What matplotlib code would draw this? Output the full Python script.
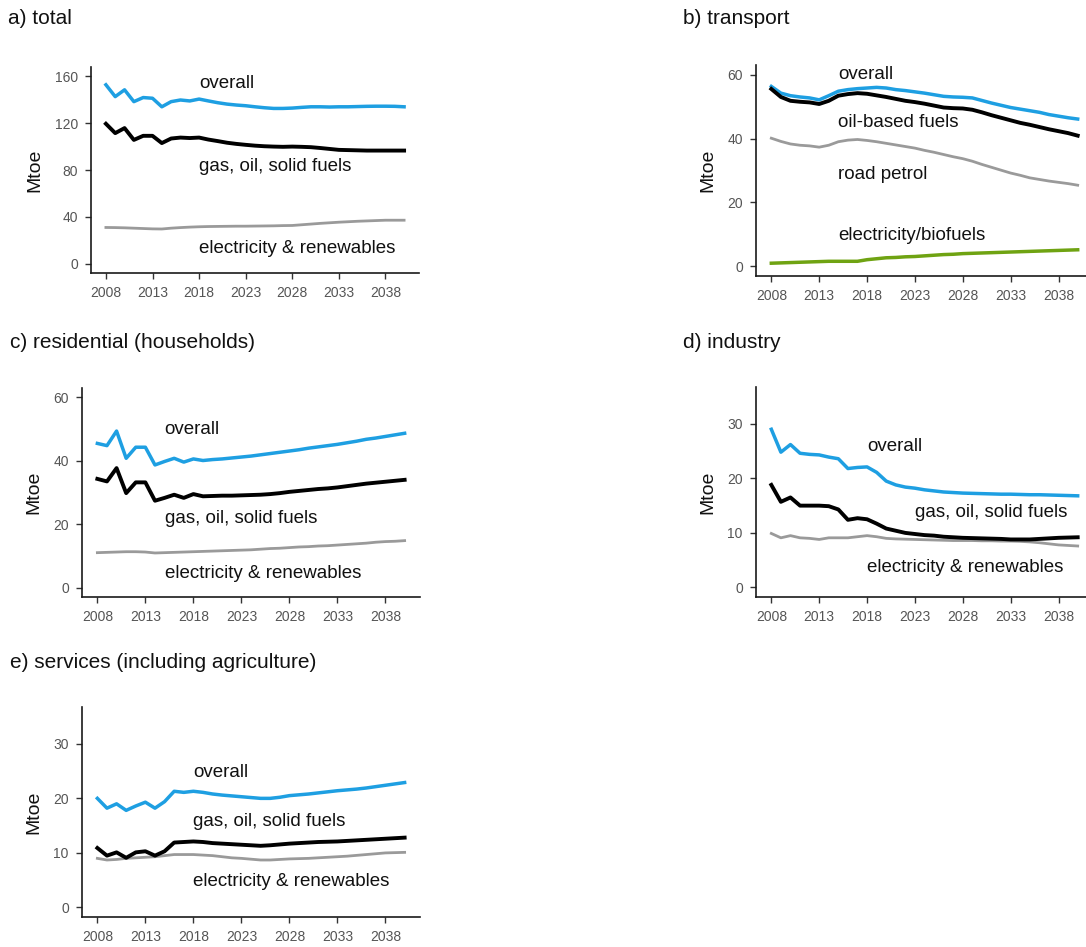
import matplotlib
matplotlib.use("Agg")
import matplotlib.pyplot as plt

plt.rcParams['font.family'] = ['Liberation Sans', 'DejaVu Sans']

years = list(range(2008, 2041))
xticks = [2008, 2013, 2018, 2023, 2028, 2033, 2038]

# a) total
total_overall = [152.8, 142.7, 148.5, 138.4, 141.9, 141.3, 134.0, 138.4, 139.8, 139.0, 140.6, 139.0,
                 137.5, 136.3, 135.5, 134.9, 134.0, 133.2, 132.6, 132.6, 132.9, 133.5, 134.0, 134.0,
                 133.8, 134.0, 134.0, 134.2, 134.4, 134.5, 134.5, 134.4, 134.0]
total_fossil = [119.5, 111.5, 115.8, 105.7, 109.2, 109.2, 103.0, 106.9, 107.7, 107.3, 107.7, 106.0,
                104.7, 103.3, 102.3, 101.5, 100.8, 100.3, 100.0, 99.8, 100.0, 99.8, 99.5, 98.8,
                98.0, 97.2, 97.0, 96.8, 96.6, 96.6, 96.6, 96.6, 96.6]
total_elec = [30.9, 30.8, 30.6, 30.3, 30.0, 29.7, 29.6, 30.3, 30.8, 31.2, 31.5, 31.7, 31.8, 31.9,
              32.0, 32.0, 32.1, 32.2, 32.3, 32.5, 32.6, 33.2, 33.8, 34.4, 34.9, 35.4, 35.8, 36.2,
              36.5, 36.8, 37.1, 37.1, 37.1]

# b) transport
transport_overall = [56.3, 54.2, 53.4, 53.0, 52.7, 52.1, 53.4, 54.8, 55.3, 55.6, 55.8, 56.0, 55.8,
                     55.3, 55.0, 54.6, 54.2, 53.7, 53.2, 53.0, 52.9, 52.7, 51.9, 51.1, 50.4, 49.7,
                     49.2, 48.7, 48.2, 47.5, 47.0, 46.5, 46.1]
transport_oil = [55.5, 53.0, 51.8, 51.5, 51.3, 50.8, 51.8, 53.4, 53.9, 54.2, 54.0, 53.5, 53.0, 52.4,
                 51.8, 51.4, 50.9, 50.3, 49.7, 49.5, 49.4, 49.0, 48.2, 47.3, 46.5, 45.7, 44.9, 44.3,
                 43.6, 42.9, 42.3, 41.7, 40.9]
transport_petrol = [40.1, 39.1, 38.3, 37.9, 37.7, 37.3, 37.9, 39.0, 39.5, 39.7, 39.4, 39.0, 38.5,
                    38.0, 37.5, 37.0, 36.3, 35.7, 35.0, 34.3, 33.7, 32.9, 31.9, 31.0, 30.1, 29.2,
                    28.5, 27.7, 27.2, 26.7, 26.3, 25.9, 25.4]
transport_elecbio = [1.0, 1.1, 1.2, 1.3, 1.4, 1.5, 1.6, 1.6, 1.6, 1.6, 2.1, 2.4, 2.7, 2.8, 3.0, 3.1,
                     3.3, 3.5, 3.7, 3.8, 4.0, 4.1, 4.2, 4.3, 4.4, 4.5, 4.6, 4.7, 4.8, 4.9, 5.0, 5.1, 5.2]

# c) residential
resid_overall = [45.5, 44.8, 49.4, 40.8, 44.3, 44.3, 38.7, 39.8, 40.8, 39.6, 40.6, 40.1, 40.4, 40.6,
                 40.9, 41.2, 41.5, 41.9, 42.3, 42.7, 43.1, 43.5, 44.0, 44.4, 44.8, 45.2, 45.7, 46.2,
                 46.8, 47.2, 47.7, 48.2, 48.7]
resid_fossil = [34.3, 33.5, 37.7, 29.8, 33.2, 33.2, 27.4, 28.3, 29.3, 28.3, 29.5, 28.8, 28.9, 29.0,
                29.0, 29.1, 29.2, 29.3, 29.5, 29.8, 30.2, 30.5, 30.8, 31.1, 31.3, 31.6, 32.0, 32.4,
                32.8, 33.1, 33.4, 33.7, 34.0]
resid_elec = [11.0, 11.1, 11.2, 11.3, 11.3, 11.2, 10.9, 11.0, 11.1, 11.2, 11.3, 11.4, 11.5, 11.6,
              11.7, 11.8, 11.9, 12.1, 12.3, 12.4, 12.6, 12.8, 12.9, 13.1, 13.2, 13.4, 13.6, 13.8,
              14.0, 14.3, 14.5, 14.6, 14.8]

# d) industry
industry_overall = [29.0, 24.8, 26.2, 24.6, 24.4, 24.3, 23.9, 23.6, 21.8, 22.0, 22.1, 21.1, 19.5,
                    18.8, 18.4, 18.2, 17.9, 17.7, 17.5, 17.4, 17.3, 17.25, 17.2, 17.15, 17.1, 17.1,
                    17.05, 17.0, 17.0, 16.95, 16.9, 16.85, 16.8]
industry_fossil = [18.8, 15.7, 16.5, 15.0, 15.0, 15.0, 14.9, 14.3, 12.4, 12.7, 12.5, 11.7, 10.8,
                   10.4, 10.0, 9.8, 9.6, 9.5, 9.3, 9.2, 9.1, 9.05, 9.0, 8.95, 8.9, 8.8, 8.8, 8.8,
                   8.9, 9.0, 9.1, 9.15, 9.2]
industry_elec = [9.9, 9.1, 9.5, 9.1, 9.0, 8.8, 9.1, 9.1, 9.1, 9.3, 9.5, 9.3, 9.0, 8.9, 8.85, 8.8,
                 8.75, 8.7, 8.65, 8.6, 8.6, 8.6, 8.55, 8.55, 8.5, 8.5, 8.45, 8.35, 8.2, 8.0, 7.8,
                 7.7, 7.6]

# e) services
services_overall = [20.0, 18.2, 19.0, 17.8, 18.6, 19.3, 18.2, 19.4, 21.3, 21.1, 21.3, 21.1, 20.8,
                    20.6, 20.45, 20.3, 20.15, 20.0, 20.0, 20.2, 20.5, 20.65, 20.8, 21.0, 21.2,
                    21.4, 21.55, 21.7, 21.9, 22.15, 22.4, 22.65, 22.9]
services_fossil = [10.9, 9.5, 10.1, 9.1, 10.1, 10.3, 9.5, 10.3, 11.9, 12.0, 12.1, 12.0, 11.8, 11.7,
                   11.6, 11.5, 11.4, 11.3, 11.4, 11.55, 11.7, 11.8, 11.9, 12.0, 12.05, 12.1, 12.2,
                   12.3, 12.4, 12.5, 12.6, 12.7, 12.8]
services_elec = [9.0, 8.7, 8.8, 9.0, 9.1, 9.2, 9.3, 9.5, 9.7, 9.7, 9.7, 9.6, 9.5, 9.3, 9.1, 9.0,
                 8.85, 8.7, 8.7, 8.8, 8.9, 8.95, 9.0, 9.1, 9.2, 9.3, 9.4, 9.55, 9.7, 9.85, 10.0,
                 10.05, 10.1]

BLUE = "#1e9fe2"
BLACK = "#000000"
GREY = "#9a9a9a"
GREEN = "#6fa312"

W, H = 1086, 947
fig = plt.figure(figsize=(W / 100, H / 100), dpi=100)


def make_axes(left, top, right, bottom):
    return fig.add_axes([left / W, 1 - bottom / H, (right - left) / W, (bottom - top) / H])


def style(ax, ylim_max, yticks):
    pad = 0.05 * ylim_max
    ax.set_ylim(-pad, ylim_max + pad)
    ax.set_xlim(2008 - 1.6, 2040 + 1.6)
    ax.set_xticks(xticks)
    ax.set_yticks(yticks)
    for s in ("top", "right"):
        ax.spines[s].set_visible(False)
    for s in ("left", "bottom"):
        ax.spines[s].set_linewidth(1.2)
        ax.spines[s].set_color("#1a1a1a")
    ax.tick_params(axis="both", length=4.5, width=1.0, color="#333333",
                   labelsize=10, labelcolor="#555555", pad=5)
    ax.set_ylabel("Mtoe", fontsize=14, color="#111111", labelpad=8)
    ax.set_facecolor("white")


def label(ax, x, y, s):
    ax.text(x, y, s, fontsize=13.5, color="#111111", ha="left", va="center")


# a) total
ax = make_axes(91, 67, 419, 273)
style(ax, 160, [0, 40, 80, 120, 160])
ax.plot(years, total_elec, color=GREY, lw=2.0)
ax.plot(years, total_overall, color=BLUE, lw=2.5)
ax.plot(years, total_fossil, color=BLACK, lw=2.8)
label(ax, 2018, 154, "overall")
label(ax, 2018, 83, "gas, oil, solid fuels")
label(ax, 2018, 13, "electricity & renewables")

# b) transport
ax = make_axes(756, 65, 1093, 276)
style(ax, 60, [0, 20, 40, 60])
ax.plot(years, transport_elecbio, color=GREEN, lw=2.5)
ax.plot(years, transport_petrol, color=GREY, lw=2.0)
ax.plot(years, transport_overall, color=BLUE, lw=2.5)
ax.plot(years, transport_oil, color=BLACK, lw=2.8)
label(ax, 2015, 60, "overall")
label(ax, 2015, 44.9, "oil-based fuels")
label(ax, 2015, 28.7, "road petrol")
label(ax, 2015, 9.8, "electricity/biofuels")

# c) residential
ax = make_axes(82, 388, 420, 597)
style(ax, 60, [0, 20, 40, 60])
ax.plot(years, resid_elec, color=GREY, lw=2.0)
ax.plot(years, resid_overall, color=BLUE, lw=2.5)
ax.plot(years, resid_fossil, color=BLACK, lw=2.8)
label(ax, 2015, 50, "overall")
label(ax, 2015, 21.7, "gas, oil, solid fuels")
label(ax, 2015, 4.4, "electricity & renewables")

# d) industry
ax = make_axes(756, 387, 1093, 597)
style(ax, 35, [0, 10, 20, 30])
ax.plot(years, industry_elec, color=GREY, lw=2.0)
ax.plot(years, industry_overall, color=BLUE, lw=2.5)
ax.plot(years, industry_fossil, color=BLACK, lw=2.8)
label(ax, 2018, 25.8, "overall")
label(ax, 2023, 13.7, "gas, oil, solid fuels")
label(ax, 2018, 3.7, "electricity & renewables")

# e) services
ax = make_axes(82, 707, 420, 917)
style(ax, 35, [0, 10, 20, 30])
ax.plot(years, services_elec, color=GREY, lw=2.0)
ax.plot(years, services_overall, color=BLUE, lw=2.5)
ax.plot(years, services_fossil, color=BLACK, lw=2.8)
label(ax, 2018, 24.7, "overall")
label(ax, 2018, 15.8, "gas, oil, solid fuels")
label(ax, 2018, 4.8, "electricity & renewables")

# panel titles
title_kw = dict(fontsize=15, color="#111111", ha="left", va="center")
fig.text(8 / W, 1 - 19 / H, "a) total", **title_kw)
fig.text(683 / W, 1 - 19 / H, "b) transport", **title_kw)
fig.text(10 / W, 1 - 342 / H, "c) residential (households)", **title_kw)
fig.text(683 / W, 1 - 342 / H, "d) industry", **title_kw)
fig.text(10 / W, 1 - 662 / H, "e) services (including agriculture)", **title_kw)

fig.savefig("out.png", dpi=100, facecolor="white")
